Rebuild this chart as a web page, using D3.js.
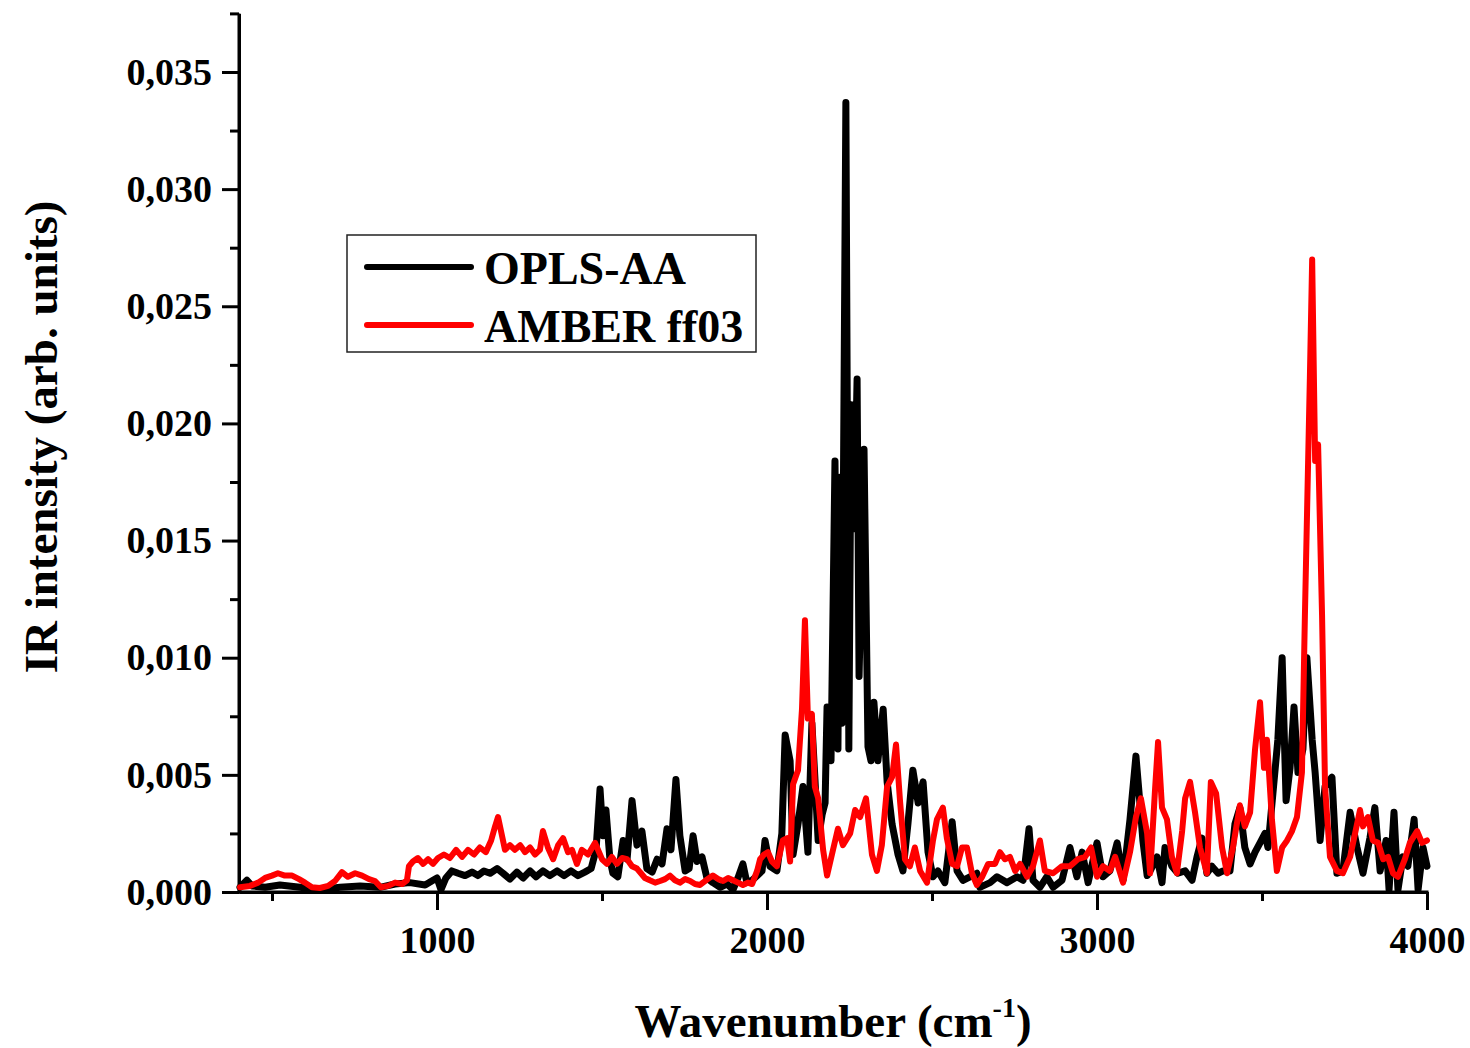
<!DOCTYPE html>
<html>
<head>
<meta charset="utf-8">
<script src="https://cdn.jsdelivr.net/npm/d3@7"></script>
<style>
  body { margin: 0; background: #fff; }
  svg text { font-family: "Liberation Serif", "Times New Roman", serif; font-weight: bold; fill: #000; }
</style>
</head>
<body>
<div id="chart"></div>
<script>
var svgWidth = 1470;
var svgHeight = 1048;

// spectra: [wavenumber, intensity]
var oplsAA = [[403,0.0002],[424,0.0005],[439,0.00026],[479,0.0002],[524,0.0003],[585,0.0002],[645,0.0001],[706,0.0002],[767,0.00026],[827,0.0002],[873,0.00034],[918,0.0004],[964,0.0003],[988,0.0005],[1000,0.0006],[1012,0.0001],[1027,0.0006],[1045,0.0009],[1064,0.0008],[1085,0.0007],[1106,0.00085],[1124,0.0007],[1142,0.0009],[1161,0.0008],[1182,0.001],[1200,0.0008],[1221,0.00055],[1242,0.00085],[1261,0.0006],[1282,0.0009],[1300,0.00065],[1321,0.0009],[1342,0.0007],[1364,0.0009],[1385,0.0007],[1406,0.0009],[1427,0.0007],[1448,0.00085],[1467,0.001],[1482,0.0018],[1494,0.0044],[1503,0.0024],[1512,0.0035],[1524,0.0014],[1533,0.0008],[1548,0.00065],[1564,0.0022],[1576,0.0014],[1591,0.0039],[1606,0.002],[1621,0.0026],[1636,0.001],[1652,0.00085],[1667,0.0014],[1682,0.0012],[1697,0.0027],[1709,0.0018],[1724,0.0048],[1736,0.0024],[1752,0.0009],[1764,0.001],[1776,0.0024],[1788,0.0013],[1803,0.0015],[1818,0.0006],[1836,0.0004],[1858,0.0002],[1879,0.00034],[1897,0.0001],[1912,0.0006],[1927,0.0012],[1939,0.0004],[1955,0.0005],[1970,0.0007],[1985,0.0009],[1994,0.0022],[2009,0.0011],[2030,0.0009],[2045,0.0025],[2055,0.0067],[2070,0.0056],[2079,0.0016],[2094,0.0029],[2109,0.0045],[2124,0.0017],[2136,0.0072],[2145,0.0049],[2155,0.0022],[2167,0.0033],[2176,0.0038],[2182,0.0079],[2194,0.0056],[2206,0.0184],[2215,0.0061],[2221,0.0177],[2227,0.0072],[2239,0.0337],[2248,0.0061],[2255,0.0208],[2264,0.0155],[2273,0.0219],[2279,0.0092],[2294,0.0189],[2306,0.0062],[2315,0.0056],[2324,0.0081],[2336,0.0056],[2352,0.0078],[2364,0.0047],[2379,0.0029],[2397,0.0016],[2412,0.0009],[2427,0.0029],[2442,0.0052],[2458,0.0038],[2473,0.0047],[2488,0.0017],[2503,0.00065],[2518,0.0009],[2539,0.0004],[2561,0.003],[2576,0.0009],[2594,0.0005],[2615,0.00065],[2636,0.0008],[2645,0.0002],[2676,0.0004],[2697,0.00065],[2727,0.0004],[2758,0.00065],[2776,0.0005],[2794,0.0027],[2806,0.0005],[2827,0.0002],[2848,0.00065],[2867,0.0002],[2894,0.0005],[2918,0.0019],[2939,0.00065],[2955,0.0017],[2973,0.0004],[3000,0.0021],[3018,0.00065],[3039,0.0009],[3061,0.0021],[3079,0.0005],[3100,0.0031],[3118,0.0058],[3130,0.0038],[3139,0.0022],[3152,0.0007],[3161,0.0009],[3182,0.0015],[3197,0.0004],[3206,0.0019],[3227,0.0011],[3245,0.0008],[3267,0.0009],[3288,0.0005],[3303,0.0015],[3318,0.0023],[3333,0.0008],[3348,0.0011],[3367,0.0008],[3382,0.0009],[3403,0.0009],[3418,0.0029],[3433,0.0036],[3448,0.0019],[3464,0.0012],[3479,0.0017],[3494,0.0021],[3509,0.0025],[3518,0.0019],[3533,0.0042],[3548,0.0065],[3561,0.01],[3573,0.0039],[3585,0.0053],[3597,0.0079],[3609,0.0051],[3624,0.0061],[3636,0.01],[3652,0.0065],[3661,0.0051],[3676,0.0022],[3691,0.0045],[3712,0.0049],[3727,0.0008],[3745,0.0009],[3767,0.0034],[3788,0.0019],[3806,0.0008],[3827,0.0023],[3842,0.0036],[3858,0.0009],[3876,0.0022],[3885,0.0001],[3900,0.0034],[3912,0.0001],[3927,0.0015],[3942,0.0011],[3961,0.0031],[3973,0.0001],[3988,0.0019],[4000,0.0011]];

var amberFF03 = [[403,0.0002],[433,0.00026],[458,0.0004],[479,0.0006],[500,0.0007],[518,0.0008],[539,0.0007],[561,0.0007],[582,0.00055],[600,0.0004],[621,0.0002],[645,0.00017],[670,0.00026],[691,0.00047],[712,0.00085],[730,0.00065],[752,0.0008],[773,0.0007],[794,0.00055],[812,0.00047],[830,0.0002],[852,0.00026],[873,0.0004],[894,0.00034],[909,0.0005],[915,0.0011],[927,0.0013],[942,0.00145],[958,0.0012],[973,0.0014],[988,0.0012],[1003,0.00145],[1021,0.0016],[1039,0.00145],[1058,0.0018],[1076,0.0015],[1094,0.0018],[1112,0.0016],[1130,0.0019],[1148,0.0017],[1164,0.0022],[1176,0.0028],[1185,0.0032],[1194,0.0026],[1206,0.0018],[1221,0.002],[1236,0.0018],[1252,0.002],[1267,0.0017],[1282,0.0019],[1297,0.0016],[1312,0.0018],[1321,0.0026],[1336,0.0019],[1352,0.0014],[1367,0.002],[1382,0.0023],[1397,0.0017],[1409,0.0018],[1424,0.0012],[1439,0.0018],[1458,0.0016],[1479,0.0021],[1500,0.0014],[1515,0.0012],[1530,0.0015],[1545,0.0012],[1561,0.00145],[1576,0.0014],[1591,0.0011],[1606,0.001],[1618,0.0008],[1630,0.0006],[1645,0.0005],[1661,0.0004],[1676,0.00047],[1691,0.00055],[1706,0.0007],[1721,0.0005],[1736,0.0004],[1752,0.00055],[1767,0.00047],[1782,0.00034],[1797,0.0003],[1815,0.0005],[1836,0.0007],[1852,0.00055],[1867,0.00047],[1882,0.0006],[1897,0.0005],[1912,0.0004],[1927,0.0003],[1942,0.0004],[1955,0.00034],[1970,0.0009],[1979,0.0014],[1991,0.0016],[2003,0.0017],[2015,0.0013],[2030,0.0011],[2048,0.0022],[2061,0.0023],[2070,0.0013],[2079,0.0046],[2094,0.0052],[2106,0.0078],[2115,0.0116],[2124,0.0074],[2136,0.0076],[2145,0.0045],[2155,0.004],[2170,0.0018],[2182,0.0007],[2200,0.0018],[2215,0.0027],[2230,0.002],[2252,0.0025],[2267,0.0035],[2282,0.0032],[2300,0.004],[2318,0.0016],[2333,0.0009],[2348,0.002],[2364,0.0045],[2379,0.0049],[2391,0.0063],[2403,0.0039],[2418,0.0014],[2433,0.0011],[2448,0.0019],[2464,0.0009],[2485,0.0004],[2503,0.0022],[2515,0.0031],[2533,0.0036],[2545,0.0023],[2561,0.0012],[2576,0.0011],[2591,0.0019],[2606,0.0019],[2621,0.0008],[2636,0.0003],[2652,0.00065],[2670,0.0012],[2691,0.0012],[2706,0.0017],[2721,0.0014],[2736,0.0015],[2752,0.0009],[2767,0.0012],[2788,0.00065],[2806,0.0011],[2827,0.0022],[2842,0.0009],[2867,0.0008],[2894,0.0011],[2918,0.0011],[2942,0.0014],[2964,0.0015],[2982,0.0019],[3000,0.00065],[3018,0.0011],[3039,0.0009],[3055,0.0015],[3079,0.0004],[3100,0.0017],[3118,0.0032],[3133,0.004],[3152,0.0025],[3161,0.0008],[3176,0.0044],[3185,0.0064],[3197,0.0036],[3212,0.0031],[3227,0.0015],[3242,0.0008],[3258,0.0026],[3267,0.004],[3282,0.0047],[3297,0.0034],[3312,0.0019],[3333,0.0008],[3345,0.0047],[3361,0.0042],[3379,0.0019],[3394,0.0008],[3412,0.0019],[3433,0.0037],[3448,0.0028],[3464,0.0034],[3479,0.0061],[3494,0.0081],[3506,0.0053],[3515,0.0065],[3530,0.0031],[3545,0.0009],[3561,0.0019],[3576,0.0022],[3591,0.0026],[3606,0.0032],[3621,0.0051],[3630,0.0118],[3645,0.0219],[3652,0.027],[3661,0.0184],[3670,0.0191],[3682,0.0118],[3691,0.0045],[3706,0.0015],[3727,0.0009],[3745,0.0008],[3767,0.0015],[3782,0.0025],[3797,0.0035],[3806,0.0028],[3821,0.0032],[3836,0.0022],[3852,0.0021],[3867,0.0014],[3882,0.0015],[3897,0.0008],[3912,0.00065],[3933,0.0014],[3948,0.0021],[3970,0.0026],[3985,0.0021],[4000,0.0022]];

var seriesNames = ["OPLS-AA", "AMBER ff03"];
var seriesColors = ["#000000", "#ff0000"];
var xMajorTicks = [1000, 2000, 3000, 4000];
var xMinorTicks = [500, 1500, 2500, 3500];
var yMajorTicks = [0, 0.005, 0.010, 0.015, 0.020, 0.025, 0.030, 0.035];
var yMinorTicks = [0.0025, 0.0075, 0.0125, 0.0175, 0.0225, 0.0275, 0.0325, 0.0375];

var svg = d3.select("#chart")
    .append("svg")
    .attr("width", svgWidth)
    .attr("height", svgHeight);

var xScale = d3.scaleLinear().domain([400, 4000]).range([239, 1427]);
var yScale = d3.scaleLinear().domain([0, 0.0375]).range([892, 13.4]);

var commaFmt = function(d) { return d3.format(".3f")(d).replace(".", ","); };

// y axis
var yAxisG = svg.append("g")
    .attr("transform", "translate(239,0)")
    .call(d3.axisLeft(yScale).tickValues(yMajorTicks).tickSize(17).tickSizeOuter(0).tickPadding(10).tickFormat(commaFmt));
svg.append("g")
    .attr("transform", "translate(239,0)")
    .call(d3.axisLeft(yScale).tickValues(yMinorTicks).tickSize(9).tickSizeOuter(0).tickFormat(""));

// x axis
var xAxisG = svg.append("g")
    .attr("transform", "translate(0,892)")
    .call(d3.axisBottom(xScale).tickValues(xMajorTicks).tickSize(18).tickSizeOuter(0).tickPadding(16).tickFormat(d3.format("d")));
svg.append("g")
    .attr("transform", "translate(0,892)")
    .call(d3.axisBottom(xScale).tickValues(xMinorTicks).tickSize(9).tickSizeOuter(0).tickFormat(""));

svg.selectAll(".domain").attr("stroke", "#000").attr("stroke-width", 3);
svg.selectAll(".tick line").attr("stroke", "#000").attr("stroke-width", 3);
svg.selectAll(".tick text").style("font-size", "38px").style("font-family", "'Liberation Serif', serif").style("font-weight", "bold");

// x domain path should start at the y axis
xAxisG.select(".domain").attr("d", "M237.5,0H1428.5");
yAxisG.select(".domain").attr("d", "M0,893.5V13.4");

// lines
var line = d3.line()
    .x(function(d) { return xScale(d[0]); })
    .y(function(d) { return yScale(d[1]); });

var plot = svg.append("g");
[oplsAA, amberFF03].forEach(function(series, i) {
    plot.append("path")
        .datum(series)
        .attr("d", line)
        .attr("fill", "none")
        .attr("stroke", seriesColors[i])
        .attr("stroke-width", i === 0 ? 7 : 6)
        .attr("stroke-linejoin", "round")
        .attr("stroke-linecap", "round");
});

// legend
var legend = svg.append("g");
legend.append("rect")
    .attr("x", 347).attr("y", 235)
    .attr("width", 409).attr("height", 117)
    .attr("fill", "#fff")
    .attr("stroke", "#222")
    .attr("stroke-width", 1.5);
seriesNames.forEach(function(name, i) {
    var ly = 267 + i * 58;
    legend.append("line")
        .attr("x1", 367).attr("x2", 471)
        .attr("y1", ly).attr("y2", ly)
        .attr("stroke", seriesColors[i])
        .attr("stroke-width", 6)
        .attr("stroke-linecap", "round");
    legend.append("text")
        .attr("x", 484).attr("y", ly + 17)
        .style("font-size", "46px")
        .text(name);
});

// axis titles
var xTitle = svg.append("text")
    .attr("x", 833).attr("y", 1037)
    .attr("text-anchor", "middle")
    .style("font-size", "47px");
xTitle.append("tspan").text("Wavenumber (cm");
xTitle.append("tspan").attr("dy", -20).style("font-size", "28px").text("-1");
xTitle.append("tspan").attr("dy", 20).text(")");

svg.append("text")
    .attr("transform", "translate(57,437) rotate(-90)")
    .attr("text-anchor", "middle")
    .style("font-size", "47px")
    .text("IR intensity (arb. units)");
</script>
</body>
</html>
